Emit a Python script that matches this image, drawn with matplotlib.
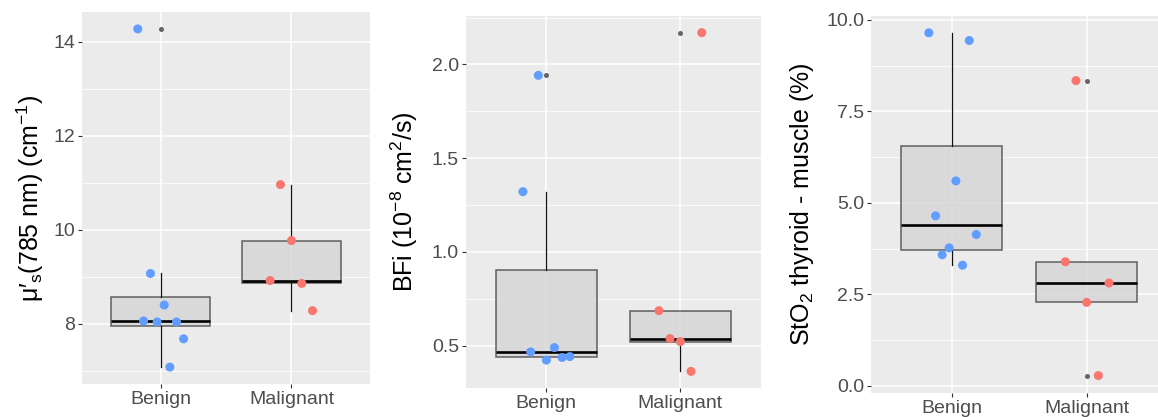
import numpy as np
import matplotlib
matplotlib.use("Agg")
import matplotlib.pyplot as plt
from matplotlib.ticker import MultipleLocator, FormatStrFormatter

plt.rcParams['font.family'] = ['Liberation Sans', 'DejaVu Sans']
plt.rcParams['mathtext.fontset'] = 'custom'
plt.rcParams['mathtext.rm'] = 'Liberation Sans'
plt.rcParams['mathtext.it'] = 'Liberation Sans:italic'
plt.rcParams['mathtext.default'] = 'regular'

groups = ["Benign", "Malignant"]

# mu_s' at 785 nm (cm^-1)
mus_benign = [14.27, 9.07, 8.40, 8.06, 8.04, 8.04, 7.68, 7.08]
mus_malig = [10.96, 9.77, 8.92, 8.86, 8.28]
mus_jit_b = [-0.174, -0.077, 0.028, -0.130, -0.026, 0.122, 0.176, 0.071]
mus_jit_m = [-0.084, 0.0, -0.163, 0.079, 0.161]

# BFi (1e-8 cm^2/s)
bfi_benign = [1.942, 1.321, 0.466, 0.489, 0.422, 0.436, 0.441]
bfi_malig = [2.170, 0.686, 0.537, 0.521, 0.362]
bfi_jit_b = [-0.060, -0.175, -0.117, 0.060, 0.0, 0.117, 0.175]
bfi_jit_m = [0.160, -0.160, -0.077, 0.0, 0.080]

# StO2 thyroid - muscle (%)
sto2_benign = [9.645, 9.435, 5.60, 4.645, 4.134, 3.77, 3.58, 3.295]
sto2_malig = [8.34, 3.39, 2.81, 2.28, 0.28]
sto2_jit_b = [-0.171, 0.129, 0.030, -0.121, 0.181, -0.020, -0.072, 0.079]
sto2_jit_m = [-0.079, -0.158, 0.166, 0.0, 0.087]

BLUE = "#619CFF"
RED = "#F8766D"
BG = "#EBEBEB"

W, H = 1158, 417
fig = plt.figure(figsize=(W / 100, H / 100), dpi=100)


def px_axes(left, right, top, bottom):
    return fig.add_axes([left / W, (H - bottom) / H, (right - left) / W, (bottom - top) / H])


def panel(ax, benign, malig, jb, jm, ylabel, major, label_x):
    ax.set_facecolor(BG)
    for s in ax.spines.values():
        s.set_visible(False)
    ax.set_axisbelow(True)
    ax.yaxis.set_major_locator(MultipleLocator(major))
    ax.yaxis.set_minor_locator(MultipleLocator(major / 2))
    ax.grid(True, which='major', color='white', lw=1.1)
    ax.grid(True, which='minor', axis='y', color='white', lw=0.55)

    bp = ax.boxplot([benign, malig], positions=[1, 2], widths=0.75, patch_artist=True,
                    whis=1.5, showcaps=False, zorder=2,
                    boxprops=dict(facecolor='#D3D3D3', edgecolor='#333333', lw=1.1, alpha=0.75),
                    whiskerprops=dict(color='#111111', lw=0.9),
                    medianprops=dict(color='black', lw=1.9),
                    flierprops=dict(marker='o', markersize=3.6, markerfacecolor='#555555',
                                    markeredgecolor='none', alpha=0.9))
    for b in bp['boxes']:
        b.set_edgecolor((0.2, 0.2, 0.2, 1.0))

    ax.scatter(1 + np.array(jb), benign, s=42, color=BLUE, edgecolor='none', zorder=3)
    ax.scatter(2 + np.array(jm), malig, s=42, color=RED, edgecolor='none', zorder=3)

    allv = np.array(benign + malig)
    pad = 0.05 * (allv.max() - allv.min())
    ax.set_ylim(allv.min() - pad, allv.max() + pad)
    ax.set_xlim(0.4, 2.6)
    ax.set_xticks([1, 2])
    ax.set_xticklabels(groups)
    ax.tick_params(axis='both', which='major', length=3, width=0.8, color='#333333',
                   labelcolor='#4D4D4D', labelsize=14, pad=2)
    ax.tick_params(axis='y', which='minor', length=0)
    ax.set_ylabel(ylabel, fontsize=18, color='black')
    ax.yaxis.set_label_coords(label_x, 0.5)


ax1 = px_axes(82, 370, 12, 384)
panel(ax1, mus_benign, mus_malig, mus_jit_b, mus_jit_m,
      "μ\u2032$_{s}$(785 nm) (cm$^{-1}$)", 2, -0.125)

ax2 = px_axes(466, 760.7, 15.7, 388.3)
panel(ax2, bfi_benign, bfi_malig, bfi_jit_b, bfi_jit_m,
      r"BFi (10$^{-8}$ cm$^{2}$/s)", 0.5, -0.155)

ax3 = px_axes(871, 1167.5, 15.7, 392.7)
panel(ax3, sto2_benign, sto2_malig, sto2_jit_b, sto2_jit_m,
      r"StO$_{2}$ thyroid - muscle (%)", 2.5, -0.185)
ax3.yaxis.set_major_formatter(FormatStrFormatter('%.1f'))

fig.savefig("out.png", dpi=100)
